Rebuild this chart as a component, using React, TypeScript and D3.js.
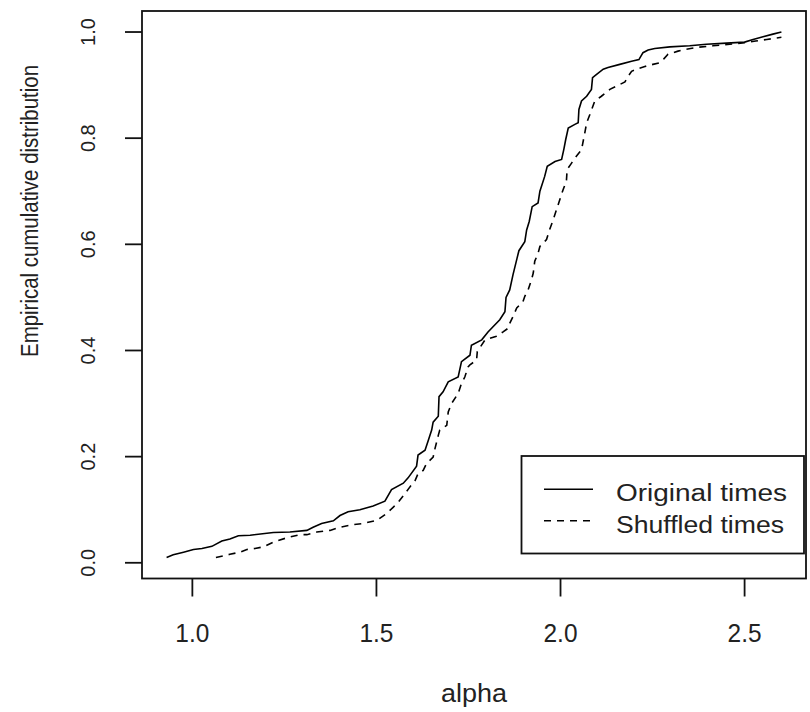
import React, { useEffect, useRef } from "react";
import * as d3 from "d3";

// alpha values and empirical CDF
const origAlpha = [
  0.93, 0.948, 0.976, 1.003, 1.026, 1.053, 1.08, 1.102, 1.125, 1.157, 1.22,
  1.265, 1.311, 1.328, 1.351, 1.383, 1.401, 1.423, 1.455, 1.491, 1.523, 1.541,
  1.573, 1.586, 1.609, 1.613, 1.632, 1.641, 1.65, 1.654, 1.668, 1.67, 1.681,
  1.695, 1.722, 1.731, 1.754, 1.758, 1.786, 1.803, 1.835, 1.849, 1.852, 1.862,
  1.871, 1.882, 1.887, 1.903, 1.908, 1.915, 1.923, 1.939, 1.944, 1.957, 1.964,
  1.985, 2.003, 2.009, 2.014, 2.021, 2.039, 2.048, 2.05, 2.057, 2.071, 2.084,
  2.087, 2.098, 2.116, 2.129, 2.161, 2.193, 2.213, 2.224, 2.238, 2.256, 2.297,
  2.351, 2.396, 2.451, 2.5, 2.523, 2.55, 2.577, 2.6,
];
const origCdf = [
  0.01, 0.015, 0.02, 0.025, 0.027, 0.031, 0.041, 0.045, 0.051, 0.052, 0.057,
  0.058, 0.061, 0.067, 0.074, 0.079, 0.089, 0.096, 0.1, 0.107, 0.116, 0.138,
  0.15, 0.16, 0.182, 0.203, 0.212, 0.231, 0.25, 0.265, 0.276, 0.313, 0.322,
  0.341, 0.35, 0.379, 0.391, 0.41, 0.42, 0.435, 0.458, 0.473, 0.5, 0.514,
  0.543, 0.574, 0.588, 0.605, 0.627, 0.643, 0.671, 0.678, 0.7, 0.728, 0.747,
  0.756, 0.76, 0.779, 0.797, 0.819, 0.826, 0.829, 0.854, 0.87, 0.879, 0.892,
  0.914, 0.92, 0.93, 0.933, 0.939, 0.945, 0.948, 0.961, 0.966, 0.969, 0.972,
  0.974, 0.977, 0.979, 0.981, 0.986, 0.991, 0.996, 1.0,
];

const shufAlpha = [
  1.064, 1.102, 1.129, 1.148, 1.17, 1.193, 1.22, 1.256, 1.292, 1.311, 1.338,
  1.374, 1.401, 1.437, 1.464, 1.501, 1.528, 1.546, 1.559, 1.577, 1.591, 1.605,
  1.613, 1.627, 1.636, 1.654, 1.659, 1.668, 1.672, 1.691, 1.695, 1.704, 1.722,
  1.731, 1.74, 1.749, 1.754, 1.772, 1.774, 1.795, 1.826, 1.844, 1.858, 1.862,
  1.871, 1.881, 1.898, 1.903, 1.912, 1.921, 1.926, 1.93, 1.939, 1.944, 1.962,
  1.97, 1.98, 2.007, 2.016, 2.018, 2.03, 2.043, 2.057, 2.066, 2.071, 2.08,
  2.093, 2.111, 2.134, 2.152, 2.175, 2.184, 2.193, 2.211, 2.229, 2.251, 2.27,
  2.28, 2.292, 2.319, 2.337, 2.369, 2.414, 2.46, 2.5, 2.53, 2.56, 2.6,
];
const shufCdf = [
  0.01, 0.016, 0.02, 0.025, 0.027, 0.03, 0.039, 0.047, 0.053, 0.053, 0.058,
  0.061, 0.067, 0.072, 0.074, 0.08, 0.093, 0.105, 0.114, 0.13, 0.143, 0.155,
  0.168, 0.174, 0.187, 0.199, 0.215, 0.24, 0.25, 0.259, 0.284, 0.3, 0.319,
  0.338, 0.35, 0.369, 0.373, 0.382, 0.398, 0.42, 0.427, 0.435, 0.442, 0.451,
  0.464, 0.48, 0.492, 0.502, 0.514, 0.533, 0.546, 0.568, 0.583, 0.596, 0.609,
  0.627, 0.646, 0.703, 0.719, 0.741, 0.753, 0.766, 0.778, 0.81, 0.829, 0.845,
  0.87, 0.879, 0.892, 0.898, 0.906, 0.917, 0.926, 0.931, 0.935, 0.939, 0.942,
  0.949, 0.958, 0.964, 0.967, 0.971, 0.974, 0.977, 0.98, 0.983, 0.986, 0.99,
];

const seriesNames = ["Original times", "Shuffled times"];
const xTicks = [1.0, 1.5, 2.0, 2.5];
const yTicks = [0.0, 0.2, 0.4, 0.6, 0.8, 1.0];

const FONT = "'Liberation Sans', Arial, Helvetica, sans-serif";

// R style 4% padding around the data range
const padded = (vals: number[]) => {
  const [lo, hi] = d3.extent(vals) as [number, number];
  const p = (hi - lo) * 0.04;
  return [lo - p, hi + p];
};

const App = () => {
  const svgRef = useRef<SVGSVGElement | null>(null);

  useEffect(() => {
    const svg = d3.select(svgRef.current);
    svg.selectAll("*").remove();

    const width = 810;
    const height = 712;
    const left = 142;
    const right = 806;
    const top = 11;
    const bottom = 578.5;

    svg.attr("width", width).attr("height", height);
    svg.append("rect").attr("width", width).attr("height", height).attr("fill", "#fff");

    const x = d3
      .scaleLinear()
      .domain(padded([...origAlpha, ...shufAlpha]))
      .range([left, right]);
    const y = d3
      .scaleLinear()
      .domain(padded([...origCdf, ...shufCdf]))
      .range([bottom, top]);

    const line = d3
      .line<[number, number]>()
      .x((d) => x(d[0]))
      .y((d) => y(d[1]));

    const orig = origAlpha.map((a, i) => [a, origCdf[i]] as [number, number]);
    const shuf = shufAlpha.map((a, i) => [a, shufCdf[i]] as [number, number]);

    svg
      .append("path")
      .attr("d", line(orig))
      .attr("fill", "none")
      .attr("stroke", "#000")
      .attr("stroke-width", 1.6);

    svg
      .append("path")
      .attr("d", line(shuf))
      .attr("fill", "none")
      .attr("stroke", "#000")
      .attr("stroke-width", 1.6)
      .attr("stroke-dasharray", "7,6");

    // plot box
    svg
      .append("rect")
      .attr("x", left)
      .attr("y", top)
      .attr("width", right - left)
      .attr("height", bottom - top)
      .attr("fill", "none")
      .attr("stroke", "#111")
      .attr("stroke-width", 1.8);

    // x axis ticks and labels
    xTicks.forEach((t) => {
      svg
        .append("line")
        .attr("x1", x(t))
        .attr("x2", x(t))
        .attr("y1", bottom)
        .attr("y2", bottom + 18)
        .attr("stroke", "#111")
        .attr("stroke-width", 1.8);
      svg
        .append("text")
        .attr("x", x(t))
        .attr("y", 642)
        .attr("text-anchor", "middle")
        .attr("font-family", FONT)
        .attr("font-size", 26)
        .attr("fill", "#222")
        .attr("textLength", 34)
        .attr("lengthAdjust", "spacingAndGlyphs")
        .text(d3.format(".1f")(t));
    });

    // y axis ticks and labels
    yTicks.forEach((t) => {
      svg
        .append("line")
        .attr("x1", left - 17)
        .attr("x2", left)
        .attr("y1", y(t))
        .attr("y2", y(t))
        .attr("stroke", "#111")
        .attr("stroke-width", 1.8);
      svg
        .append("text")
        .attr("transform", `translate(95,${y(t)}) rotate(-90)`)
        .attr("text-anchor", "middle")
        .attr("font-family", FONT)
        .attr("font-size", 20)
        .attr("fill", "#222")
        .text(d3.format(".1f")(t));
    });

    // axis titles
    svg
      .append("text")
      .attr("x", (left + right) / 2)
      .attr("y", 702)
      .attr("text-anchor", "middle")
      .attr("font-family", FONT)
      .attr("font-size", 25)
      .attr("fill", "#222")
      .attr("textLength", 66)
      .attr("lengthAdjust", "spacingAndGlyphs")
      .text("alpha");

    svg
      .append("text")
      .attr("transform", `translate(38,211) rotate(-90)`)
      .attr("text-anchor", "middle")
      .attr("font-family", FONT)
      .attr("font-size", 23)
      .attr("fill", "#222")
      .attr("textLength", 292)
      .attr("lengthAdjust", "spacingAndGlyphs")
      .text("Empirical cumulative distribution");

    // legend
    const lg = svg.append("g");
    lg.append("rect")
      .attr("x", 521.5)
      .attr("y", 456)
      .attr("width", 804 - 521.5)
      .attr("height", 553.5 - 456)
      .attr("fill", "#fff")
      .attr("stroke", "#111")
      .attr("stroke-width", 1.8);

    seriesNames.forEach((name, i) => {
      const ly = 489.3 + i * 31.4;
      lg.append("line")
        .attr("x1", 544)
        .attr("x2", 593)
        .attr("y1", ly)
        .attr("y2", ly)
        .attr("stroke", "#000")
        .attr("stroke-width", 1.6)
        .attr("stroke-dasharray", i === 1 ? "7,6" : null);
      lg.append("text")
        .attr("x", 616)
        .attr("y", ly + 12)
        .attr("font-family", FONT)
        .attr("font-size", 23)
        .attr("fill", "#222")
        .attr("textLength", i === 0 ? 171 : 168)
        .attr("lengthAdjust", "spacingAndGlyphs")
        .text(name);
    });
  }, []);

  return (
    <svg
      ref={svgRef}
      style={{ position: "absolute", left: 0, top: 0, display: "block" }}
    ></svg>
  );
};

export default App;
